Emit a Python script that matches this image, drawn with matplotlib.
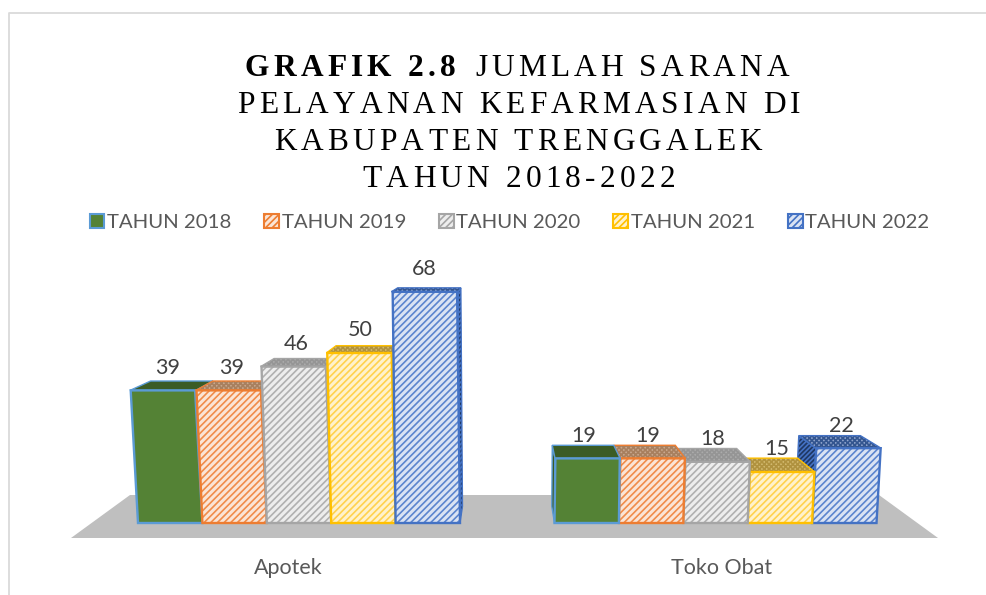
import matplotlib
matplotlib.use("Agg")
import matplotlib.pyplot as plt
from matplotlib.text import Text
from matplotlib.lines import Line2D
from matplotlib.patches import Patch, Polygon
from matplotlib.transforms import Affine2D, Bbox, IdentityTransform

categories = ["Apotek", "Toko Obat"]
series = ["TAHUN 2018", "TAHUN 2019", "TAHUN 2020", "TAHUN 2021", "TAHUN 2022"]
tahun_2018 = [39, 19]
tahun_2019 = [39, 19]
tahun_2020 = [46, 18]
tahun_2021 = [50, 15]
tahun_2022 = [68, 22]
values = [tahun_2018, tahun_2019, tahun_2020, tahun_2021, tahun_2022]

face = ["#548235", "#FBE5D6", "#EDEDED", "#FFF2CC", "#DAE3F3"]
stripe = ["#548235", "#F08C4A", "#B0B0B0", "#FFD24D", "#5B84CE"]
edge = ["#5B9BD5", "#ED7D31", "#A5A5A5", "#FFC000", "#4472C4"]
top_face = ["#3B5C25", "#C9A88E", "#ABABAB", "#D2B96E", "#8EA3CC"]
top_hatch = ["#3B5C25", "#A8805F", "#959595", "#B0923F", "#33558F"]
side_face = ["#3B5C25", "#B5652C", "#8C8C8C", "#C29400", "#1F3864"]

PX_PER_CAT = 416.5
PX_PER_VAL = 3.4
X0_PX, Y0_PX = 299.0, 523.0
W, H = 986, 595


def X(px):
    return (px - X0_PX) / PX_PER_CAT


def Y(py):
    return (Y0_PX - py) / PX_PER_VAL


VX, VY = X(505), Y(220)   # vanishing point of the 3-D look
DEPTH = 0.055
LEAN = 0.00056
BAR_W = 64.4 / PX_PER_CAT

plt.rcParams["hatch.linewidth"] = 1.2
SANS = "Lato"
SERIF = "Liberation Serif"


class SpacedText(Text):
    """One text artist drawn with letter spacing (pixels)."""

    def __init__(self, x, y, text, spacing=0.0, **kw):
        super().__init__(x, y, text, **kw)
        self._spacing = spacing

    def _advances(self, renderer):
        prop = self.get_fontproperties()
        size = prop.get_size_in_points() * self.figure.dpi / 72
        adv = []
        for ch in self.get_text():
            if ch == " ":
                w = 0.25 * size
            else:
                w, _, _ = renderer.get_text_width_height_descent(ch, prop, False)
            adv.append(w + self._spacing)
        return adv

    def get_window_extent(self, renderer=None, dpi=None):
        renderer = renderer or self.figure.canvas.get_renderer()
        adv = self._advances(renderer)
        px, py = self.get_transform().transform(self.get_position())
        total = sum(adv) - self._spacing
        size = self.get_fontproperties().get_size_in_points() * self.figure.dpi / 72
        return Bbox([[px - total / 2, py - 0.2 * size], [px + total / 2, py + 0.7 * size]])

    def draw(self, renderer):
        adv = self._advances(renderer)
        px, py = self.get_transform().transform(self.get_position())
        cur = px - (sum(adv) - self._spacing) / 2
        for ch, a in zip(self.get_text(), adv):
            if ch != " ":
                t = Text(cur, py, ch, transform=IdentityTransform(),
                         fontproperties=self.get_fontproperties(),
                         color=self.get_color(), ha="left", va="baseline")
                t.set_figure(self.figure)
                t.draw(renderer)
            cur += a


fig = plt.figure(figsize=(W / 100, H / 100), dpi=100, facecolor="white")
ax = fig.add_axes([0, 0, 1, 1])
ax.set_xlim(X(0), X(W))
ax.set_ylim(Y(H), Y(0))
ax.set_axis_off()

# chart frame (top and left edges are what the crop shows)
fx, fy = 8.5 / W, 1 - 13 / H
fig.add_artist(Line2D([fx, fx, 1], [0, fy, fy], transform=fig.transFigure,
                      color="#DADADA", lw=1.3))

# floor of the 3-D chart
ax.add_patch(Polygon([(X(71), Y(538)), (X(130), Y(495)), (X(879), Y(495)), (X(938), Y(538))],
                     closed=True, facecolor="#BFBFBF", edgecolor="none"))


def lean(x, h):
    return x + (x - VX) * LEAN * h


def back(x, y):
    return x + DEPTH * (VX - x), y + DEPTH * (VY - y)


n = len(series)
for c in range(len(categories)):
    order = range(n) if c < VX else range(n - 1, -1, -1)
    for s in order:
        v = values[s][c]
        xc = c + (s - (n - 1) / 2) * BAR_W
        xl, xr = xc - BAR_W / 2, xc + BAR_W / 2
        tl, tr = (lean(xl, v), v), (lean(xr, v), v)
        bl, br = (xl, 0), (xr, 0)
        if xc < VX:
            side = [tr, br, back(*br), back(*tr)]
        else:
            side = [tl, bl, back(*bl), back(*tl)]
        ax.add_patch(Polygon(side, closed=True, facecolor=side_face[s],
                             edgecolor=edge[s], lw=1.0,
                             hatch=None if s == 0 else "///////"))
        ax.add_patch(Polygon([tl, tr, back(*tr), back(*tl)], closed=True,
                             facecolor=top_face[s], edgecolor=top_hatch[s], lw=0,
                             hatch=None if s == 0 else "xxxxxxx"))
        ax.add_patch(Polygon([tl, tr, back(*tr), back(*tl)], closed=True, fill=False,
                             edgecolor=edge[s], lw=1.0))
        shear = Affine2D.from_values(1, 0, (xc - VX) * LEAN, 1, 0, 0)
        b1 = ax.bar(xc, v, BAR_W, color=face[s], edgecolor=stripe[s], linewidth=0,
                    hatch=None if s == 0 else "/////")
        b2 = ax.bar(xc, v, BAR_W, fill=False, edgecolor=edge[s], linewidth=1.7)
        for p in (b1[0], b2[0]):
            p.set_transform(shear + ax.transData)
        ax.annotate(str(v), (xc, v), xytext=(-2.2, 16.3), textcoords="offset points",
                    ha="center", va="center", fontsize=15.5, color="#404040", family=SANS)

ax.set_xlim(X(0), X(W))
ax.set_ylim(Y(H), Y(0))

# category labels
label_px = [288, 722]
for name, px in zip(categories, label_px):
    ax.text(X(px), Y(568), name, ha="center", va="center", fontsize=15.5,
            color="#595959", family=SANS)

# legend
handles = [Patch(facecolor=face[i], edgecolor=edge[i], linewidth=1.5,
                 hatch=None if i == 0 else "/////", label=series[i]) for i in range(n)]
ax.legend(handles=handles, ncols=n, loc="center", bbox_to_anchor=(509.5 / W, 1 - 222.5 / H),
          bbox_transform=fig.transFigure, frameon=False,
          handlelength=0.72, handleheight=0.72, handletextpad=0.12, columnspacing=1.62,
          labelcolor="#595959", prop={"family": SANS, "size": 14.7})

# title
title_size = 22.6
kw = dict(family=SERIF, size=title_size, color="#000000")
title_runs = [
    ("GRAFIK 2.8", 350, 76, "bold"),
    ("JUMLAH SARANA", 632, 76, "normal"),
    ("PELAYANAN KEFARMASIAN DI", 519, 113, "normal"),
    ("KABUPATEN TRENGGALEK", 518, 150, "normal"),
    ("TAHUN 2018-2022", 519, 187, "normal"),
]
for txt, px, py, wt in title_runs:
    ax.add_artist(SpacedText(X(px), Y(py), txt, spacing=4.2, weight=wt,
                             transform=ax.transData, **kw))

fig.savefig("out.png", dpi=100)
